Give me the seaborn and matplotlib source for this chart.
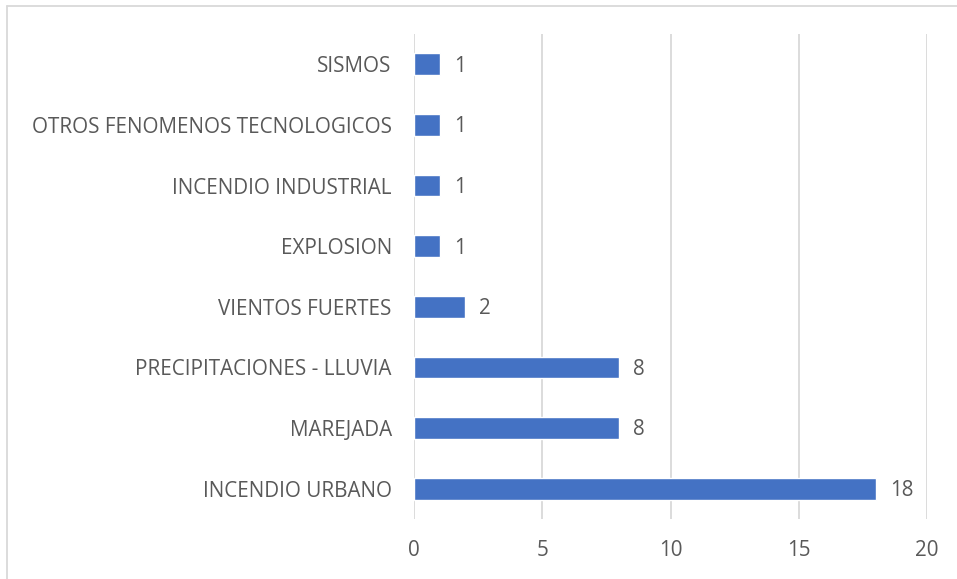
import matplotlib
matplotlib.use("Agg")
import matplotlib.pyplot as plt
import pandas as pd
import seaborn as sns
from matplotlib.lines import Line2D

categorias = ['SISMOS', 'OTROS FENOMENOS TECNOLOGICOS', 'INCENDIO INDUSTRIAL',
              'EXPLOSION', 'VIENTOS FUERTES', 'PRECIPITACIONES - LLUVIA',
              'MAREJADA', 'INCENDIO URBANO']
cantidades = [1, 1, 1, 1, 2, 8, 8, 18]
ticks_x = [0, 5, 10, 15, 20]

df = pd.DataFrame({'categoria': categorias, 'cantidad': cantidades})

sns.set_style("white")
plt.rcParams['font.family'] = ['Open Sans', 'DejaVu Sans']
gris = '#595959'
tam = 14.9

fig = plt.figure(figsize=(9.57, 5.79), dpi=100)
ax = fig.add_axes([0.4326, 0.1036, 0.5361, 0.8377])

sns.barplot(data=df, x='cantidad', y='categoria', color='#4472C4',
            width=0.36, saturation=1, ax=ax, zorder=3)

for i, v in enumerate(cantidades):
    ax.text(v + 0.55, i + 0.03, str(v), va='center', ha='left', fontsize=tam, color=gris)

ax.set_xlim(0, 20)
ax.set_ylim(7.5, -0.5)
ax.set_xticks(ticks_x)
ax.xaxis.grid(True, color='#D9D9D9', linewidth=1.3, zorder=0)
ax.set_xlabel('')
ax.set_ylabel('')
ax.tick_params(axis='both', length=0, labelsize=tam, colors=gris)
ax.tick_params(axis='x', pad=15)
ax.tick_params(axis='y', pad=16)
for s in ax.spines.values():
    s.set_visible(False)

# borde del gráfico (izquierda y arriba)
fig.add_artist(Line2D([7.5 / 957, 7.5 / 957], [0, 1 - 5.5 / 579], color='#D9D9D9', lw=1.3))
fig.add_artist(Line2D([7.5 / 957, 1], [1 - 5.5 / 579, 1 - 5.5 / 579], color='#D9D9D9', lw=1.3))

fig.savefig('out.png', dpi=100)
